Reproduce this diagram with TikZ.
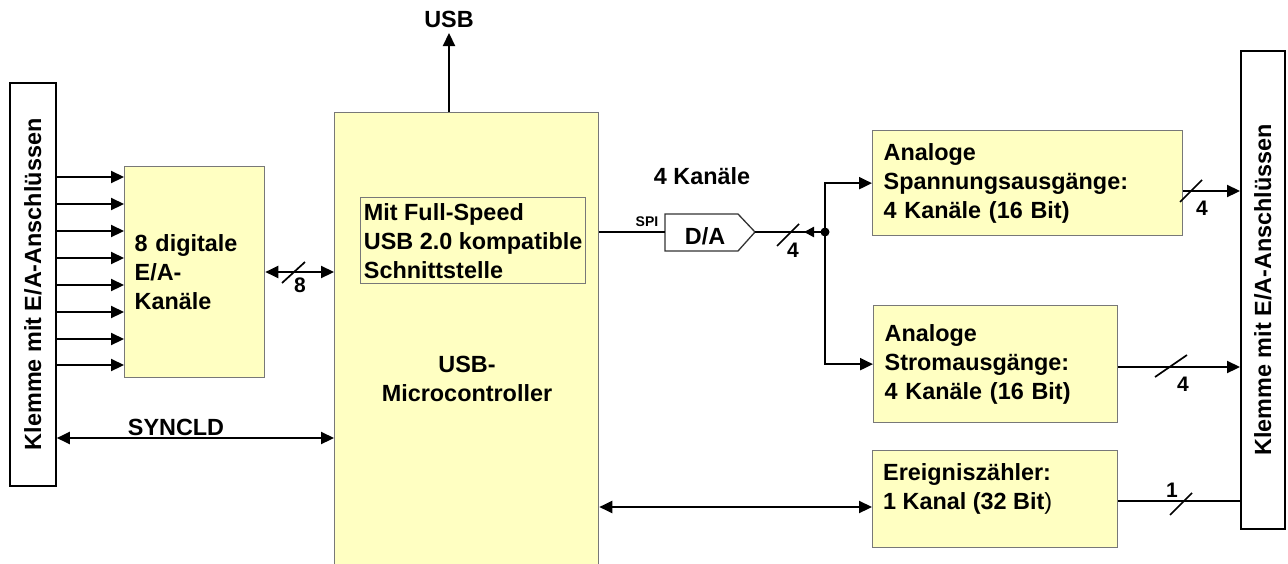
\documentclass[tikz,border=0pt]{standalone}
\usepackage{fontspec}
\setmainfont{Liberation Sans}
\usetikzlibrary{arrows.meta}
\definecolor{boxfill}{RGB}{255,255,194}
\definecolor{boxgray}{RGB}{120,120,120}
\newcommand{\dtxt}{\fontsize{23.4}{29}\selectfont\bfseries}
\newcommand{\dnum}{\fontsize{21}{21}\selectfont\bfseries}
\newcommand{\dsmall}{\fontsize{14}{14}\selectfont\bfseries}
\begin{document}
\begin{tikzpicture}[x=1pt,y=-1pt,
  box/.style={draw=boxgray,line width=1.3pt,fill=boxfill,align=left,inner xsep=11pt,inner ysep=0pt,font=\dtxt,anchor=north west},
  term/.style={draw=black,line width=1.8pt,fill=white,anchor=north west,inner sep=0pt},
  conn/.style={line width=2.2pt},
  arr/.style={-{Triangle[length=13pt,width=12pt]}},
  darr/.style={{Triangle[length=13pt,width=12pt]}-{Triangle[length=13pt,width=12pt]}},
  slash/.style={line width=1.7pt},
  lbl/.style={font=\dtxt,inner sep=0pt},
  num/.style={font=\dnum,inner sep=0pt}
]
\useasboundingbox (0,0) rectangle (1288,563);

% terminals
\node[term,minimum width=46pt,minimum height=403pt] (lt) at (9,82) {};
\node[lbl,rotate=90] (ltt) at (lt.center) {Klemme mit E/A-Anschlüssen};
\node[term,minimum width=44pt,minimum height=478pt] (rt) at (1240,50) {};
\node[lbl,rotate=90] (rtt) at (rt.center) {Klemme mit E/A-Anschlüssen};

% digital box
\node[box,inner xsep=10pt,text width=120pt,minimum height=211pt] (dig) at (124,166) {8 digitale\\E/A-\\Kanäle};

% microcontroller
\node[box,minimum width=264pt,minimum height=460pt] (mc) at (334,112) {};
\node[box,inner xsep=2pt,minimum width=225pt,minimum height=86pt] (inner) at (360,197) {Mit Full-Speed\\USB 2.0 kompatible\\Schnittstelle};
\node[lbl,align=center] (mct) at (467,379) {USB-\\Microcontroller};

% USB
\node[lbl] (usb) at (449,19) {USB};
\coordinate (usbtip) at (449,33);
\draw[conn,arr] (mc.north -| usbtip) -- (usbtip);

% right boxes
\node[box,text width=288pt,minimum height=105pt] (sp) at (872,130) {Analoge\\Spannungsausgänge:\\4 Kanäle (16 Bit)};
\node[box,text width=222pt,minimum height=117pt] (st) at (873,305) {Analoge\\Stromausgänge:\\4 Kanäle (16 Bit)};
\node[box,text width=223pt,minimum height=97pt] (ev) at (872,450) {};
\node[lbl,anchor=west,align=left] (evt) at ([xshift=11pt,yshift=10pt]ev.west) {Ereigniszähler:\\1 Kanal (32 Bit\textmd{)}};

% D/A converter
\coordinate (daw) at (665,232);
\coordinate (dae) at (755,232);
\draw[draw=black!80,line width=1.3pt,fill=white] (665,214) -- (738,214) -- (dae) -- (738,251) -- (665,251) -- cycle;
\node[lbl] (dat) at (705,236) {D/A};
\node[font=\dsmall,inner sep=0pt] (spi) at (647,222) {SPI};
\node[lbl] (kan) at (702,176) {4 Kanäle};

% left connections
\foreach \yy in {177,204,231,258,285,312,339,365}
  \draw[conn,arr] (lt.east |- 0,\yy) -- (dig.west |- 0,\yy);
\draw[conn,darr] (dig.east |- 0,272) -- (mc.west |- 0,272);
\draw[slash] (282,283) -- (305,262);
\node[num] (n8) at (300,285) {8};
\draw[conn,darr] (lt.east |- 0,438) -- (mc.west |- 0,438);
\node[lbl] (sync) at (176,427) {SYNCLD};

% D/A connections
\coordinate (dot) at (825,232);
\coordinate (dtip) at (804,232);
\draw[conn] (mc.east |- daw) -- (daw);
\draw[conn] (dae) -- (dot);
\draw[conn,-{Triangle[length=10pt,width=10pt]}] (dot) -- (dtip);
\fill (dot) circle (4.5pt);
\draw[slash] (777,246) -- (799,224);
\node[num] (n4a) at (793,250) {4};
\draw[conn,arr] (dot) |- (sp.west);
\draw[conn,arr] (dot) |- (st.west);

% outputs
\draw[conn,arr] (sp.east |- 0,191) -- (rt.west |- 0,191);
\draw[slash] (1180,202) -- (1202,180);
\node[num] (n4b) at (1202,208) {4};
\draw[conn,arr] (st.east |- 0,367) -- (rt.west |- 0,367);
\draw[slash] (1155,377) -- (1187,355);
\node[num] (n4c) at (1183,384) {4};
\draw[conn] (ev.east |- 0,501) -- (rt.west |- 0,501);
\draw[slash] (1170,515) -- (1192,493);
\node[num] (n1) at (1172,490) {1};

% micro to event counter
\draw[conn,darr] (mc.east |- 0,507) -- (ev.west |- 0,507);
\end{tikzpicture}
\end{document}
